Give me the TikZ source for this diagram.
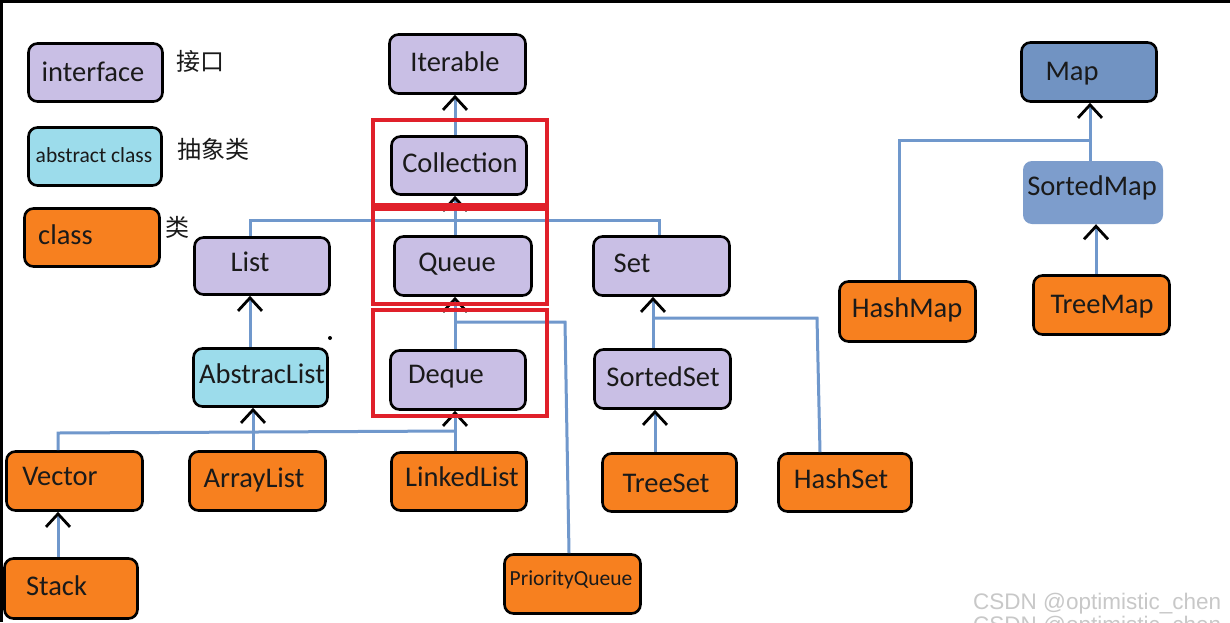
\documentclass[tikz,border=0pt]{standalone}
\usepackage{fontspec}
\setmainfont{Carlito}
\newfontfamily\cjkfont{Noto Sans CJK SC}
\newfontfamily\wmfont{Liberation Sans}
\usetikzlibrary{arrows.meta}
\definecolor{ifc}{HTML}{C9BFE5}
\definecolor{absc}{HTML}{9CDCEB}
\definecolor{clsc}{HTML}{F7801F}
\definecolor{mapc}{HTML}{7193C2}
\definecolor{smapc}{HTML}{7D9DCC}
\definecolor{linec}{HTML}{7098CC}
\definecolor{redc}{HTML}{E0202A}
\definecolor{wmc}{HTML}{C8C8C8}
\definecolor{txtc}{HTML}{1A1A1A}
\begin{document}
\begin{tikzpicture}[x=1pt,y=-1pt,
  box/.style={rounded corners=9pt, line width=2.6pt, draw=black, inner sep=0pt, minimum width=#1},
  box/.default=136pt,
  iface/.style={box, fill=ifc},
  absbox/.style={box, fill=absc},
  clsbox/.style={box, fill=clsc},
  mapbox/.style={box, fill=mapc},
  smapbox/.style={rounded corners=9pt, draw=none, fill=smapc, inner sep=0pt},
  lbl/.style={anchor=base, inner sep=0pt, text=txtc, font=\fontsize{28.5}{34}\selectfont},
  slbl/.style={anchor=base, inner sep=0pt, text=txtc, font=\fontsize{21.5}{26}\selectfont},
  cjk/.style={anchor=center, inner sep=0pt, text=txtc, font=\cjkfont\fontsize{24}{28}\selectfont},
  conn/.style={draw=linec, line width=3pt},
  inh/.style={conn, -{Straight Barb[color=black, length=13pt, width=24pt, line width=2.8pt]}},
  redbox/.style={draw=redc, line width=4pt},
  wm/.style={anchor=base west, inner sep=0pt, text=wmc, font=\wmfont\fontsize{22.5}{26}\selectfont}
]
\clip (0,0) rectangle (1230,622);
\fill[white] (0,0) rectangle (1230,622);
% frame
\draw[line width=3pt] (0,1.5) -- (1230,1.5);
\draw[line width=3pt] (1.5,0) -- (1.5,622);

% legend
\node[iface, minimum width=134pt, minimum height=58pt] (leg-if) at (95.5,72.5) {};
\node[absbox, minimum width=133pt, minimum height=58pt] (leg-abs) at (95,156.5) {};
\node[clsbox, minimum width=135pt, minimum height=58pt] (leg-cls) at (92,237.5) {};
\node[lbl] (leg-if-t) at (93,81) {interface};
\node[slbl] (leg-abs-t) at (94,162) {abstract class};
\node[lbl, anchor=base west] (leg-cls-t) at (38,244) {class};
\node[cjk] (leg-if-c) at (200,61) {接口};
\node[cjk] (leg-abs-c) at (213,149) {抽象类};
\node[cjk] (leg-cls-c) at (177,227) {类};

% boxes
\node[iface, minimum width=136pt, minimum height=59pt] (iterable) at (457.5,64) {};
\node[iface, minimum width=135pt, minimum height=58pt] (collection) at (459,165.5) {};
\node[iface, minimum width=135pt, minimum height=57pt] (list) at (262,266) {};
\node[iface, minimum width=137pt, minimum height=59pt] (queue) at (463,266) {};
\node[iface, minimum width=136pt, minimum height=59pt] (set) at (661.5,266) {};
\node[absbox, minimum width=134pt, minimum height=58pt] (abstraclist) at (260.5,377.5) {};
\node[iface, minimum width=135pt, minimum height=59pt] (deque) at (458,380) {};
\node[iface, minimum width=136pt, minimum height=59pt] (sortedset) at (662.5,379) {};
\node[clsbox, minimum width=136pt, minimum height=59pt] (vector) at (74.5,481) {};
\node[clsbox, minimum width=136pt, minimum height=59pt] (arraylist) at (257.5,481) {};
\node[clsbox, minimum width=135pt, minimum height=58pt] (linkedlist) at (459,481.5) {};
\node[clsbox, minimum width=134pt, minimum height=58pt] (treeset) at (669.5,482.5) {};
\node[clsbox, minimum width=133pt, minimum height=58pt] (hashset) at (845,482.5) {};
\node[clsbox, minimum width=133pt, minimum height=60pt] (stack) at (71,588.5) {};
\node[clsbox, minimum width=136pt, minimum height=59pt] (priorityqueue) at (572.5,584) {};
\node[mapbox, minimum width=135pt, minimum height=59pt] (map) at (1089,72) {};
\node[smapbox, minimum width=140pt, minimum height=63pt] (sortedmap) at (1093,192.5) {};
\node[clsbox, minimum width=136pt, minimum height=60pt] (hashmap) at (907.5,311.5) {};
\node[clsbox, minimum width=136pt, minimum height=59pt] (treemap) at (1101.5,305) {};

% texts
\node[lbl] (iterable-t) at (455,71) {Iterable};
\node[lbl] (collection-t) at (460,172) {Collection};
\node[lbl] (list-t) at (250,271) {List};
\node[lbl] (queue-t) at (457,271) {Queue};
\node[lbl] (set-t) at (632,272) {Set};
\node[lbl] (abstraclist-t) at (262,383) {AbstracList};
\node[lbl] (deque-t) at (446,383) {Deque};
\node[lbl] (sortedset-t) at (663,386) {SortedSet};
\node[lbl] (vector-t) at (60,485) {Vector};
\node[lbl] (arraylist-t) at (254,487) {ArrayList};
\node[lbl] (linkedlist-t) at (462,486) {LinkedList};
\node[lbl] (treeset-t) at (666,492) {TreeSet};
\node[lbl] (hashset-t) at (841,488) {HashSet};
\node[lbl] (stack-t) at (56.5,595) {Stack};
\node[slbl] (priorityqueue-t) at (571,585) {PriorityQueue};
\node[lbl] (map-t) at (1072,80) {Map};
\node[lbl] (sortedmap-t) at (1092,195) {SortedMap};
\node[lbl] (hashmap-t) at (907,317) {HashMap};
\node[lbl] (treemap-t) at (1102,313) {TreeMap};

% helper coordinates
\coordinate (cQ) at (455,0);
\coordinate (cL) at (250,0);
\coordinate (cA) at (253,0);
\coordinate (cS) at (653,0);
\coordinate (cT) at (655,0);
\coordinate (cM) at (1090,0);
\coordinate (cTM) at (1096,0);
\coordinate (b1) at (250,220);
\coordinate (b2) at (659,220);
\coordinate (pq1) at (455,322);
\coordinate (pq2) at (565,322);
\coordinate (pqx) at (569,0);
\coordinate (v1) at (58,433);
\coordinate (v2) at (455,431);
\coordinate (hs1) at (653,318);
\coordinate (hs2) at (817,318);
\coordinate (hsx) at (820,0);
\coordinate (hm1) at (1090,140);
\coordinate (hm2) at (899,140);

% connectors
\draw[conn] (list.north -| b1) -- (b1) -- (b2) -- (set.north -| b2);
\draw[conn] (pq1) -- (pq2) -- (priorityqueue.north -| pqx);
\draw[conn] (vector.north -| v1) -- (v1) -- (v2);
\draw[conn] (hs1) -- (hs2) -- (hashset.north -| hsx);
\draw[conn] (hm1) -- (hm2) -- (hashmap.north -| hm2);
\draw[inh] (collection.north -| cQ) -- (iterable.south -| cQ);
\draw[inh] (queue.north -| cQ) -- (collection.south -| cQ);
\draw[inh] (deque.north -| cQ) -- (queue.south -| cQ);
\draw[inh] (linkedlist.north -| cQ) -- (deque.south -| cQ);
\draw[inh] (abstraclist.north -| cL) -- (list.south -| cL);
\draw[inh] (arraylist.north -| cA) -- (abstraclist.south -| cA);
\draw[inh] (stack.north -| v1) -- (vector.south -| v1);
\draw[inh] (sortedset.north -| cS) -- (set.south -| cS);
\draw[inh] (treeset.north -| cT) -- (sortedset.south -| cT);
\draw[inh] (sortedmap.north -| cM) -- (map.south -| cM);
\draw[inh] (treemap.north -| cTM) -- (sortedmap.south -| cTM);

% red highlight boxes
\draw[redbox] (373,120) rectangle (547,205);
\draw[redbox] (373,209) rectangle (547,304);
\draw[redbox] (373,310) rectangle (547,416);

% stray dot
\fill (330,338) circle (2pt);

% watermark
\node[wm] (wm1) at (973,609) {CSDN @optimistic\_chen};
\node[wm] (wm2) at (973,632) {CSDN @optimistic\_chen};
\end{tikzpicture}
\end{document}
